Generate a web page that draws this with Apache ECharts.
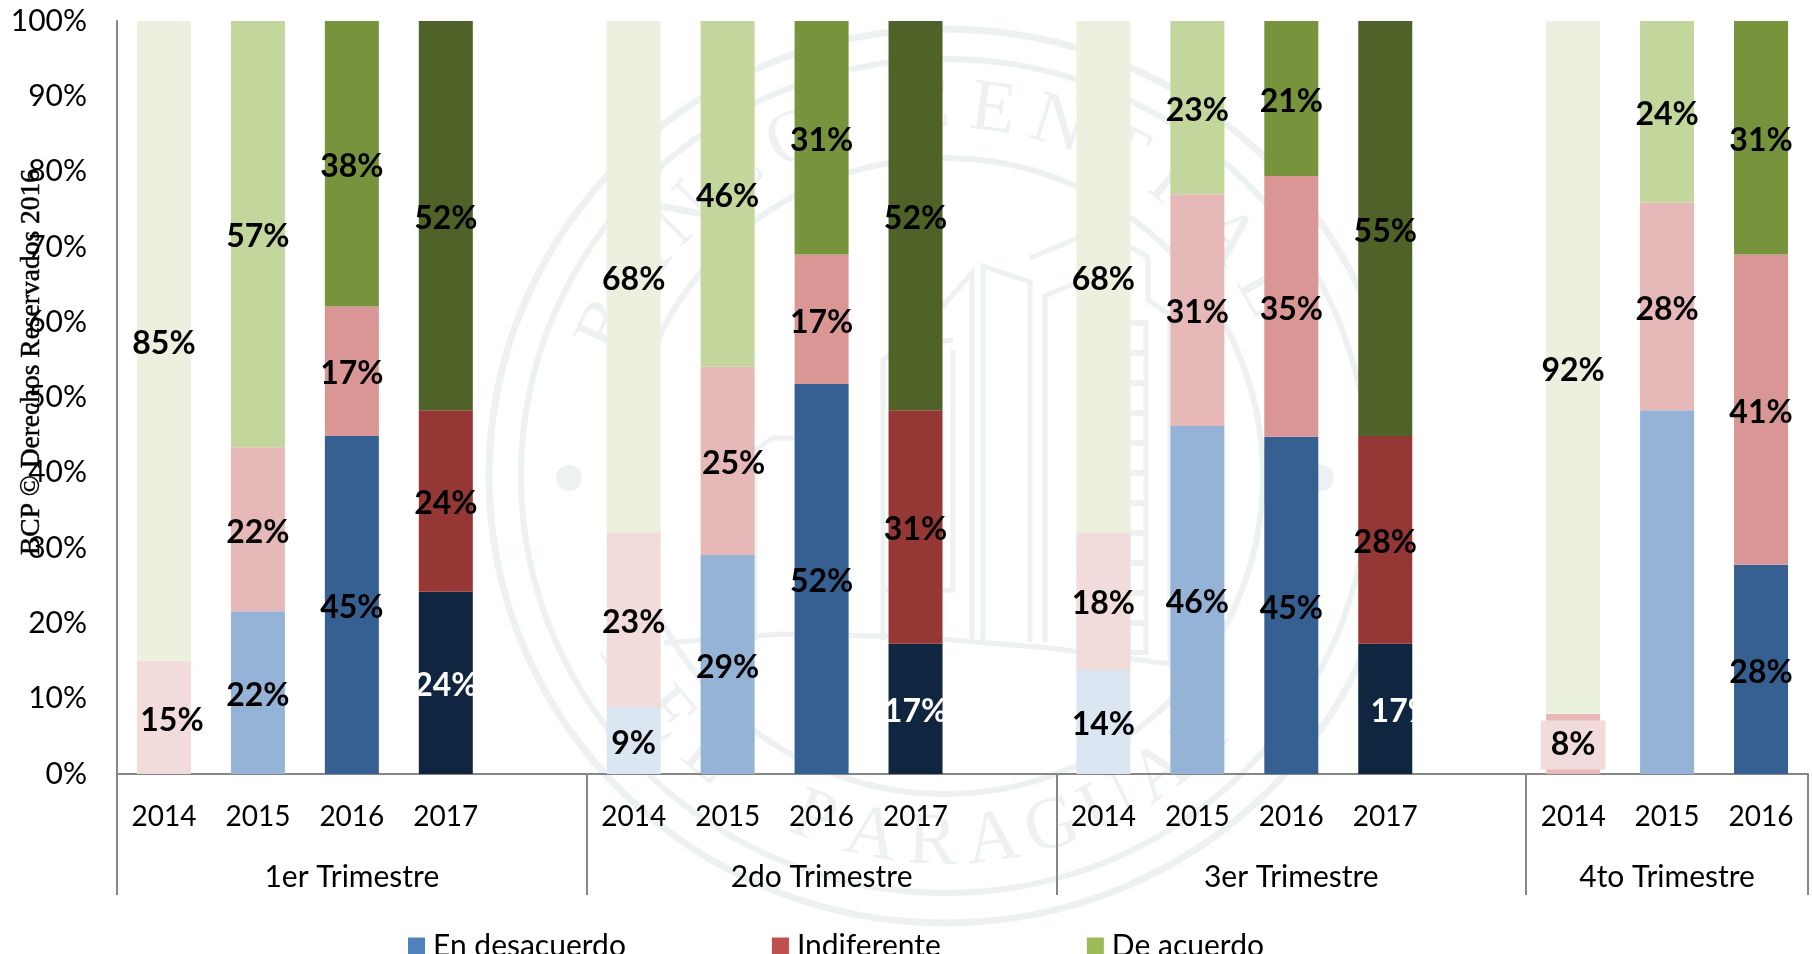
<!DOCTYPE html>
<html><head><meta charset="utf-8">
<style>html,body{margin:0;padding:0;background:#fff}#c{width:1812px;height:954px}</style>
<script src="https://cdn.jsdelivr.net/npm/echarts@6/dist/echarts.min.js"></script>
</head><body><div id="c"></div>
<script>
const years = ['2014','2015','2016','2017','','2014','2015','2016','2017','','2014','2015','2016','2017','','2014','2015','2016'];
const quarters = ['','','1er Trimestre','','','','','2do Trimestre','','','','','3er Trimestre','','','','4to Trimestre',''];
const seriesNames = ['En desacuerdo','Indiferente','De acuerdo'];
const desacuerdo = [0,21.6,44.9,24.2,null,8.9,29.1,51.8,17.3,null,13.8,46.2,44.8,17.3,null,0,48.3,27.8];
const indiferente = [15,21.8,17.2,24.1,null,23.2,25,17.2,31,null,18.3,30.8,34.6,27.6,null,8,27.6,41.2];
const deAcuerdo = [85,56.6,37.9,51.7,null,67.9,45.9,31,51.7,null,67.9,23,20.6,55.1,null,92,24.1,31];
const hiddenLabels = {0:[0,15,16]};
const labelShift = {'1-0':8,'1-6':6,'0-13':17};

const legendColors = ['#4F81BD','#C0504D','#9BBB59'];
const shades = [
  ['#DCE6F2','#95B3D7','#376092','#10253F'],
  ['#F2DCDB','#E6B9B8','#D99694','#953735'],
  ['#EBF1DE','#C3D69B','#77933C','#4F6228']
];
const FONT = 'Lato';
const AXIS = '#868686';
const WM = '#EDF1F2';

function buildSeries(vals, s) {
  return {
    name: seriesNames[s], type: 'bar', stack: 'total', barWidth: 54, xAxisIndex: 0,
    itemStyle: {color: legendColors[s]},
    data: vals.map((v, i) => {
      if (v === null) return null;
      const boxed = s === 1 && i === 15;
      const shade = boxed ? 1 : years.indexOf(years[i]);
      const hidden = v === 0 || (hiddenLabels[s] || []).includes(i);
      const item = {value: v, itemStyle: {color: shades[s][shade]},
        label: {show: !hidden, offset: [labelShift[s + '-' + i] || 0, boxed ? 1 : 3],
          color: (s === 0 && years[i] === '2017') ? '#fff' : '#000'}};
      if (boxed) Object.assign(item.label, {backgroundColor: '#F2DCDB', padding: [9, 10, 8, 10]});
      return item;
    }),
    label: {show: true, position: 'inside', fontFamily: FONT, fontSize: 32, fontWeight: 'bold',
      formatter: p => Math.round(p.value) + '%'}
  };
}

// decorative seal watermark behind the chart
const cx = 945, cy = 476;
const seal = [];
[[456, 447, 7], [424, 417, 6], [318, 318, 6]].forEach(([rx, ry, w]) => seal.push({type: 'ellipse', z: -10, silent: true,
  shape: {cx, cy, rx, ry}, style: {fill: null, stroke: WM, lineWidth: w}}));
[569, 1321].forEach(x => seal.push({type: 'circle', z: -10, silent: true,
  shape: {cx: x, cy: 478, r: 13}, style: {fill: WM}}));
function arcText(txt, startDeg, step, bottom) {
  [...txt].forEach((ch, k) => {
    const a = (startDeg + step * k) * Math.PI / 180;
    const r = 368;
    const x = cx + r * Math.sin(a);
    const y = bottom ? cy + r * Math.cos(a) : cy - r * Math.cos(a);
    seal.push({type: 'text', z: -10, silent: true, x, y, rotation: bottom ? a : -a,
      style: {text: ch, fill: WM, font: '74px "Liberation Serif"', align: 'center', verticalAlign: 'middle'}});
  });
}
arcText('BANCO CENTRAL', -66, 10.5, false);
arcText('DEL PARAGUAY', -59, 9.5, true);
const buildingLines = [
  [[942,307],[972,273],[972,640]],
  [[983,640],[983,266],[1030,282],[1030,642]],
  [[1045,642],[1045,296],[1078,282]],
  [[1030,258],[1078,238]],
  [[1130,247],[1148,257],[1148,300],[1170,315],[1170,660]],
  [[1128,320],[1128,655]],
  [[1146,320],[1146,655]],
  [[953,350],[953,590],[883,590]],
  [[883,640],[883,360],[905,345],[953,340]],
  [[755,640],[755,450],[773,438],[800,438]],
  [[664,643],[780,634],[916,637],[1050,648],[1170,664]]
];
buildingLines.forEach(points => seal.push({type: 'polyline', z: -10, silent: true,
  shape: {points}, style: {fill: null, stroke: WM, lineWidth: 5}}));
seal.push({type: 'line', z: -10, silent: true, shape: {x1: 1137, y1: 320, x2: 1137, y2: 655},
  style: {stroke: WM, lineWidth: 14, lineDash: [6, 24]}});

const chart = echarts.init(document.getElementById('c'));
chart.setOption({
  animation: false,
  backgroundColor: '#fff',
  grid: {left: 117, right: 4, top: 21, bottom: 180, containLabel: false},
  legend: {left: 403, top: 926, itemWidth: 17, itemHeight: 17, itemGap: 146, icon: 'rect',
    data: seriesNames, textStyle: {fontFamily: FONT, fontSize: 30, color: '#000', padding: [0,0,0,3]}},
  xAxis: [{
    type: 'category', position: 'bottom', data: years,
    axisLine: {show: true, lineStyle: {color: AXIS, width: 2}},
    axisTick: {show: true, length: 121, interval: i => i % 5 === 0 && i < 16, lineStyle: {color: AXIS, width: 2}},
    axisLabel: {interval: 0, margin: 29, fontFamily: FONT, fontSize: 28, color: '#000'}
  }, {
    type: 'category', position: 'bottom', data: quarters,
    axisLine: {show: false}, axisTick: {show: false},
    axisLabel: {interval: 0, margin: 88, fontFamily: FONT, fontSize: 30, color: '#000'}
  }],
  yAxis: {type: 'value', min: 0, max: 100, interval: 10,
    axisLine: {show: true, lineStyle: {color: AXIS, width: 2}}, axisTick: {show: false}, splitLine: {show: false},
    axisLabel: {margin: 30, padding: [2,0,0,0], formatter: '{value}%', fontFamily: FONT, fontSize: 30, color: '#000'}},
  series: [buildSeries(desacuerdo, 0), buildSeries(indiferente, 1), buildSeries(deAcuerdo, 2)],
  graphic: {elements: seal.concat([{type: 'text', z: 50, silent: true, x: 32, y: 362, rotation: Math.PI / 2,
    style: {text: 'BCP © Derechos Reservados 2016', fill: '#000', stroke: '#000', lineWidth: 0.5, font: '27.5px "Liberation Serif"', align: 'center', verticalAlign: 'middle'}}])}
});
</script></body></html>
